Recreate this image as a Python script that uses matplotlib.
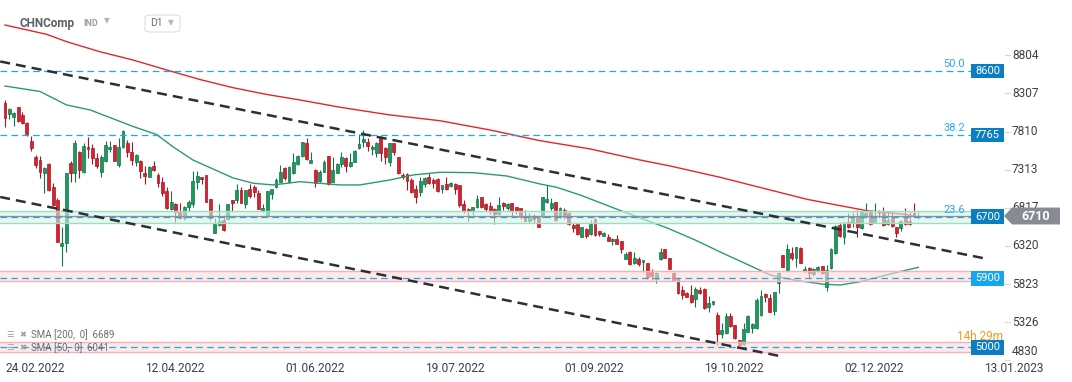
import numpy as np
import matplotlib.pyplot as plt
from matplotlib.patches import Rectangle, Polygon, FancyBboxPatch

plt.rcParams['font.family'] = ['Roboto', 'DejaVu Sans']

# daily candles (oldest first)
opens = [8178, 8040, 8005, 8127, 8027, 7918, 7692, 7475, 7440, 7275,
         7388, 7084, 6919, 6324, 6363, 7397, 7275, 7540, 7288, 7614,
         7592, 7462, 7288, 7432, 7579, 7631, 7375, 7614, 7666, 7549,
         7419, 7432, 7267, 7223, 7366, 7245, 7149, 7036, 6802, 6867,
         6780, 6680, 6832, 6863, 7158, 7214, 7245, 6928, 6485, 6589,
         6659, 6667, 6919, 6919, 7050, 6867, 7058, 7093, 7015, 6780,
         6711, 6993, 7084, 7158, 7332, 7158, 7267, 7384, 7497, 7658,
         7406, 7310, 7167, 7288, 7493, 7158, 7275, 7384, 7462, 7362,
         7419, 7592, 7671, 7679, 7579, 7536, 7723, 7592, 7419, 7658,
         7475, 7245, 7254, 7180, 7058, 7028, 7123, 7223, 7180, 7188,
         7062, 7123, 7106, 7123, 7115, 6867, 6798, 6780, 6824, 6954,
         6867, 6841, 6798, 6737, 6875, 6811, 6875, 6824, 6811, 6689,
         6650, 6702, 6680, 6693, 6897, 6811, 6889, 6702, 6789, 6745,
         6593, 6607, 6441, 6537, 6472, 6667, 6515, 6454, 6441, 6385,
         6407, 6385, 6150, 6246, 6094, 6150, 6107, 6094, 5994, 5885,
         6150, 6276, 6159, 5972, 5907, 5746, 5712, 5681, 5625, 5746,
         5759, 5521, 5560, 5421, 5173, 5182, 5408, 5286, 5090, 5043,
         5204, 5247, 5247, 5421, 5694, 5647, 5477, 5833, 6202, 6007,
         6233, 6159, 6289, 5998, 6029, 5955, 6007, 6059, 5781, 6029,
         6224, 6593, 6441, 6637, 6615, 6693, 6550, 6693, 6767, 6637,
         6776, 6745, 6607, 6693, 6563, 6550, 6702, 6650, 6754, 6695]
highs = [8222, 8113, 8070, 8135, 8070, 7931, 7753, 7505, 7492, 7345,
         7397, 7136, 6941, 6572, 7275, 7432, 7701, 7562, 7657, 7736,
         7644, 7536, 7505, 7688, 7688, 7636, 7723, 7831, 7701, 7679,
         7514, 7440, 7362, 7362, 7427, 7267, 7214, 7093, 7036, 6876,
         6884, 6841, 6919, 7297, 7297, 7214, 7245, 6928, 6680, 6863,
         6724, 6863, 6919, 7128, 7084, 7050, 7128, 7115, 7050, 6863,
         7036, 7067, 7202, 7375, 7345, 7362, 7527, 7505, 7679, 7723,
         7549, 7319, 7310, 7440, 7493, 7484, 7397, 7540, 7484, 7527,
         7571, 7779, 7831, 7723, 7636, 7679, 7753, 7605, 7666, 7666,
         7475, 7267, 7267, 7201, 7115, 7223, 7223, 7267, 7201, 7201,
         7115, 7223, 7158, 7145, 7115, 6919, 6811, 6832, 6984, 6962,
         6884, 6897, 6811, 6962, 6897, 6884, 6884, 6824, 6811, 6789,
         6754, 6732, 6689, 6962, 7115, 6941, 6897, 6832, 6811, 6758,
         6615, 6615, 6572, 6550, 6659, 6689, 6520, 6507, 6472, 6428,
         6463, 6389, 6246, 6255, 6246, 6172, 6137, 6094, 6016, 5985,
         6290, 6276, 6159, 5985, 5920, 5798, 5725, 5811, 5781, 5790,
         5768, 5668, 5607, 5464, 5312, 5442, 5442, 5286, 5100, 5312,
         5421, 5321, 5638, 5746, 5712, 5694, 5725, 5985, 6202, 6346,
         6311, 6311, 6302, 6059, 6042, 6029, 6059, 6059, 6072, 6289,
         6593, 6637, 6646, 6754, 6767, 6789, 6780, 6875, 6780, 6875,
         6789, 6832, 6767, 6767, 6572, 6659, 6810, 6767, 6884, 6758]
lows = [7875, 7970, 7883, 7940, 7905, 7753, 7562, 7332, 7210, 7006,
        7036, 6841, 6376, 6064, 6246, 7158, 7158, 7201, 7275, 7471,
        7388, 7332, 7214, 7419, 7540, 7427, 7354, 7601, 7484, 7375,
        7362, 7201, 7128, 7214, 7297, 7084, 6971, 6802, 6789, 6637,
        6667, 6659, 6780, 6832, 7062, 7128, 6898, 6659, 6485, 6580,
        6520, 6659, 6767, 6876, 6876, 6811, 6941, 6954, 6798, 6767,
        6702, 6928, 7071, 7149, 7180, 7145, 7258, 7375, 7484, 7440,
        7397, 7093, 7158, 7280, 7115, 7149, 7267, 7354, 7288, 7354,
        7410, 7584, 7614, 7562, 7505, 7484, 7432, 7388, 7362, 7505,
        7254, 7188, 7049, 7015, 6884, 6971, 7093, 7127, 7071, 7028,
        7006, 7049, 7093, 6997, 6824, 6754, 6650, 6724, 6811, 6811,
        6780, 6737, 6602, 6724, 6789, 6789, 6693, 6737, 6667, 6650,
        6637, 6615, 6563, 6680, 6884, 6789, 6650, 6680, 6667, 6593,
        6498, 6463, 6433, 6420, 6463, 6450, 6450, 6450, 6389, 6333,
        6342, 6224, 6146, 6072, 6081, 6064, 5985, 5890, 5877, 5842,
        6137, 6159, 6016, 5868, 5694, 5629, 5651, 5581, 5529, 5694,
        5499, 5455, 5551, 5030, 5117, 5173, 5269, 5104, 4985, 5030,
        5195, 5182, 5234, 5408, 5594, 5455, 5421, 5712, 6042, 5998,
        6137, 6042, 6094, 5985, 5898, 5929, 5985, 5955, 5738, 6020,
        6215, 6441, 6346, 6550, 6563, 6441, 6537, 6680, 6593, 6628,
        6680, 6580, 6593, 6572, 6433, 6520, 6593, 6593, 6702, 6667]
closes = [7992, 8100, 8057, 7953, 7918, 7775, 7592, 7375, 7288, 7332,
          7050, 6854, 6376, 6355, 7267, 7275, 7666, 7310, 7623, 7584,
          7462, 7366, 7484, 7631, 7610, 7432, 7605, 7818, 7549, 7440,
          7501, 7297, 7232, 7345, 7310, 7145, 7006, 6811, 6889, 6767,
          6689, 6824, 6889, 7167, 7236, 7189, 6898, 6680, 6607, 6646,
          6528, 6863, 6884, 7050, 6884, 7050, 6971, 7028, 6798, 6819,
          7036, 7058, 7180, 7280, 7202, 7345, 7419, 7493, 7671, 7449,
          7440, 7145, 7288, 7419, 7128, 7310, 7384, 7484, 7362, 7419,
          7562, 7649, 7710, 7623, 7605, 7666, 7536, 7475, 7658, 7549,
          7275, 7215, 7171, 7028, 6962, 7167, 7201, 7136, 7145, 7041,
          7115, 7062, 7136, 7062, 6854, 6780, 6780, 6824, 6932, 6824,
          6798, 6780, 6737, 6854, 6841, 6867, 6780, 6780, 6702, 6650,
          6702, 6667, 6572, 6962, 6932, 6875, 6659, 6810, 6702, 6602,
          6559, 6476, 6563, 6450, 6607, 6463, 6472, 6485, 6389, 6411,
          6346, 6276, 6215, 6081, 6159, 6081, 6137, 5911, 5933, 5972,
          6246, 6168, 6016, 5877, 5703, 5681, 5660, 5586, 5759, 5703,
          5508, 5573, 5603, 5173, 5225, 5408, 5282, 5117, 5030, 5234,
          5408, 5303, 5616, 5668, 5651, 5464, 5716, 5972, 6050, 6276,
          6159, 6302, 6103, 6020, 5964, 6016, 6042, 5964, 6007, 6276,
          6580, 6454, 6615, 6563, 6680, 6563, 6767, 6745, 6607, 6702,
          6745, 6593, 6659, 6580, 6493, 6650, 6607, 6602, 6711, 6710]

# moving averages sampled along the bar index
sma200_idx = [0, 9.5, 14.1, 21.7, 29.3, 37, 44.6, 52.2, 59.9, 67.5, 76.7, 88.1,
              99.5, 111, 122.4, 133.9, 145.3, 152.2, 163.6, 175.1, 183.5, 191.1,
              197.2, 206.3, 209]
sma200_val = [9199, 9078, 8982, 8851, 8743, 8613, 8489, 8382, 8294, 8222, 8127, 8027,
              7952, 7831, 7692, 7584, 7440, 7362, 7215, 7049, 6928, 6845,
              6780, 6730, 6689]
sma50_idx = [0, 8, 14.1, 19.5, 29.3, 34.7, 38.4, 43, 47.6, 52.2, 56.8, 61.3, 67.5,
             76.7, 81.2, 88.1, 93.4, 99.5, 107.1, 114.8, 122.4, 126.2, 131.6, 139.1,
             145.5, 151.7, 157.9, 164, 169.3, 175.1, 180.4, 187.3, 191.1, 195.7,
             198.7, 204.8, 209]
sma50_val = [8404, 8333, 8157, 8092, 7877, 7772, 7614, 7440, 7323, 7206, 7137, 7115, 7157,
             7115, 7115, 7180, 7245, 7280, 7275, 7232, 7128, 7085, 6984, 6819,
             6681, 6550, 6398, 6232, 6094, 5942, 5877, 5821, 5811, 5854,
             5899, 5985, 6041]

# drawn trend channel (bar index, price)
upper_trend_idx = [-1.1, 223.8]
upper_trend_val = [8724, 6162]
lower_trend_idx = [-1.1, 177.3]
lower_trend_val = [6958, 4885]

levels = [8600, 7765, 6700, 5900, 5000]
level_fib = ['50.0', '38.2', '23.6', '', '']
level_box = ['#0b7dc1', '#0b7dc1', '#0b7dc1', '#17a6ee', '#0b7dc1']
zones_lo = [6623, 5860, 4935]
zones_hi = [6776, 5990, 5073]
zones_kind = ['green', 'red', 'red']

price_ticks = [4830, 5326, 5823, 6320, 6817, 7313, 7810, 8307, 8804]
date_labels = ['24.02.2022', '12.04.2022', '01.06.2022', '19.07.2022',
               '01.09.2022', '19.10.2022', '02.12.2022', '13.01.2023']
date_pos = [6.9, 38.9, 70.9, 102.9, 134.9, 166.9, 198.9, 230.9]
last_price = 6710
sma200_last = 6689
sma50_last = 6041

W, H = 1072, 382
fig = plt.figure(figsize=(W / 100, H / 100), dpi=100)
ax = fig.add_axes([0, 0, 1, 1])
ax.set_xlim(-1.144, 244.16)
ax.set_ylim(4547, 9525)
ax.axis('off')
ytr = ax.get_yaxis_transform()
xtr = ax.get_xaxis_transform()

o = np.array(opens, float)
h = np.array(highs, float)
l = np.array(lows, float)
c = np.array(closes, float)
x = np.arange(len(c))
up = c >= o
face = np.where(up, '#1b9a60', '#d7212f')
edge = np.where(up, '#12744a', '#a8161f')
ax.vlines(x, l, h, colors=edge, lw=0.8, zorder=3)
ax.bar(x, np.maximum(np.abs(c - o), 14), bottom=np.minimum(o, c), width=0.66,
       color=face, edgecolor=edge, linewidth=0.5, zorder=4)

ax.plot(sma200_idx, sma200_val, color='#e3262b', lw=1.0, zorder=5)
ax.plot(sma50_idx, sma50_val, color='#2a9c6d', lw=1.0, zorder=5)

xr = 971 / W  # right end of drawn levels
for lo, hi, kind in zip(zones_lo, zones_hi, zones_kind):
    fc, ec = ('#d4f2e5', '#9adfc2') if kind == 'green' else ('#fbdcdc', '#f4b2b2')
    ax.axhspan(lo, hi, xmin=0, xmax=xr, facecolor=fc, alpha=0.6, edgecolor='none', zorder=6)
    ax.axhline(lo, 0, xr, color=ec, lw=1.0, zorder=6)
    ax.axhline(hi, 0, xr, color=ec, lw=1.0, zorder=6)

for lv, fib, bc in zip(levels, level_fib, level_box):
    ax.axhline(lv, 0, xr, color='#22a4ee', lw=0.9, ls=(0, (5.3, 3.4)), zorder=7)
    if fib:
        ax.text(954 / W, lv + 25, fib, transform=ytr,
                ha='center', va='bottom', fontsize=8, color='#2aa9ec', zorder=9)
    ax.add_patch(Rectangle((xr, lv - 96), 33 / W, 192, transform=ytr,
                           facecolor=bc, edgecolor='none', zorder=9, clip_on=False))
    ax.text((971 + 16.5) / W, lv, f'{lv}', transform=ytr,
            ha='center', va='center', fontsize=8, color='white', zorder=10)

ax.axhline(last_price, 0, xr, color='#8c9198', lw=0.9, zorder=7)

ax.plot(upper_trend_idx, upper_trend_val, color='#2b3036', lw=1.8,
        ls=(0, (4, 2.4)), zorder=8)
ax.plot(lower_trend_idx, lower_trend_val, color='#2b3036', lw=1.8,
        ls=(0, (4, 2.4)), zorder=8)

# price scale
lab_min = 9525 - 13.03 * 352
for t in price_ticks:
    ax.plot([1005 / W, 1010 / W], [t, t], transform=ytr, color='#d5d7da', lw=0.8, clip_on=False)
    ax.text(1012 / W, max(t, lab_min), f'{t}', transform=ytr, ha='left', va='center',
            fontsize=8.6, color='#3c4046', zorder=9)

# last price marker
py = last_price
ax.add_patch(Polygon([(1004 / W, py), (1012 / W, py + 110), (1060 / W, py + 110),
                      (1060 / W, py - 110), (1012 / W, py - 110)], closed=True,
                     transform=ytr, facecolor='#878c93', edgecolor='none', zorder=11))
ax.text(1036 / W, py, f'{last_price}', transform=ytr, ha='center', va='center',
        fontsize=9, fontweight='bold', color='white', zorder=12)

# date axis
for pos, lab in zip(date_pos, date_labels):
    ax.text(pos, 14 / H, lab, transform=xtr, ha='center', va='center',
            fontsize=8.6, color='#3c4046')

# bar countdown
ax.text(1003 / W, 9525 - 13.03 * 337, '14h 29m', transform=ytr, ha='right',
        va='center', fontsize=8.5, color='#f39a1e', zorder=12)

# indicator legend
for i, (per, val) in enumerate([(200, sma200_last), (50, sma50_last)]):
    yy = 9525 - 13.03 * (335 + 13 * i)
    ax.text(6 / W, yy, '☰', transform=ytr, ha='left', va='center',
            fontsize=6, color='#9a9ea4', zorder=12)
    ax.text(19 / W, yy, '✖', transform=ytr, ha='left', va='center',
            fontsize=6, color='#9a9ea4', zorder=12)
    ax.text(31 / W, yy, f'SMA [{per},  0]  {val}', transform=ytr, ha='left',
            va='center', fontsize=7, color='#6a6e74', zorder=12)

# header
fig.text(20 / W, 1 - 23 / H, 'CHNComp', fontsize=8.5, fontweight='bold',
         color='#5b6067', va='center')
fig.text(83 / W, 1 - 23 / H, 'IND', fontsize=6.5, fontweight='bold',
         color='#9ba0a6', va='center')
fig.text(104 / W, 1 - 21 / H, '▼', fontsize=5.5, color='#b3b7bb', va='center')
fig.patches.append(FancyBboxPatch((145 / W, 1 - 32 / H), 35 / W, 17 / H,
                                  boxstyle='round,pad=0,rounding_size=0.006',
                                  transform=fig.transFigure, facecolor='white',
                                  edgecolor='#dcdfe2', lw=0.8))
fig.text(150 / W, 1 - 23.5 / H, 'D1', fontsize=7.5, color='#6b7076', va='center')
fig.text(168 / W, 1 - 23 / H, '▼', fontsize=5.5, color='#b3b7bb', va='center')

fig.savefig('out.png', dpi=100, facecolor='white')
